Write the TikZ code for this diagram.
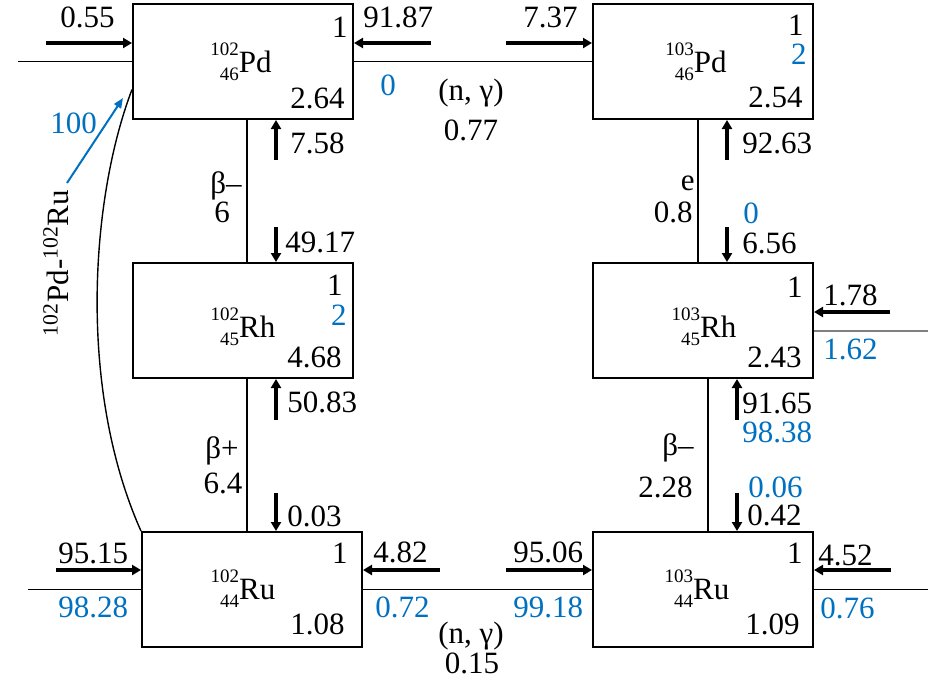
\documentclass[tikz,border=0pt]{standalone}
\usepackage{fontspec}
\setmainfont{Liberation Serif}
\usetikzlibrary{arrows.meta,calc}
\definecolor{vblue}{HTML}{0070C0}
\newcommand\nuc[3]{{\fontsize{9.5}{12.5}\selectfont\raisebox{-4pt}{\begin{tabular}[b]{@{}r@{}}#1\\#2\end{tabular}}}#3}
\begin{document}
\begin{tikzpicture}[x=0.5pt,y=-0.5pt,
  box/.style={draw,line width=1pt,minimum width=110pt,minimum height=57.5pt,inner sep=0pt,anchor=center},
  lbl/.style={inner sep=0pt,font=\fontsize{15.5}{18}\selectfont},
  blu/.style={lbl,text=vblue},
  flow/.style={line width=2pt,-{Triangle[length=4.5pt,width=5pt]}},
  link/.style={line width=0.75pt}]
\useasboundingbox (0,0) rectangle (945,686);

% boxes
\node[box] (pd102) at (243,61.5) {};
\node[box] (pd103) at (703,61.5) {};
\node[box] (rh102) at (243,320.5) {};
\node[box] (rh103) at (703,320.5) {};
\node[box] (ru102) at (252,589.5) {};
\node[box] (ru103) at (703,589.5) {};

% nuclide names
\node[lbl,anchor=base] (npd102) at (241,72) {\nuc{102}{46}{Pd}};
\node[lbl,anchor=base] (npd103) at (696,72) {\nuc{103}{46}{Pd}};
\node[lbl,anchor=base] (nrh102) at (243,337) {\nuc{102}{45}{Rh}};
\node[lbl,anchor=base] (nrh103) at (704,337) {\nuc{103}{45}{Rh}};
\node[lbl,anchor=base] (nru102) at (243,599) {\nuc{102}{44}{Ru}};
\node[lbl,anchor=base] (nru103) at (697,599) {\nuc{103}{44}{Ru}};

% in-box numbers
\node[lbl,anchor=base east] (a1) at (348,37) {1};
\node[lbl,anchor=base east] (a2) at (345,108) {2.64};
\node[lbl,anchor=base east] (b1) at (804,35) {1};
\node[blu,anchor=base east] (b2) at (807,64) {2};
\node[lbl,anchor=base east] (b3) at (803,107) {2.54};
\node[lbl,anchor=base east] (c1) at (343,295) {1};
\node[blu,anchor=base east] (c2) at (347,325) {2};
\node[lbl,anchor=base east] (c3) at (342,367) {4.68};
\node[lbl,anchor=base east] (d1) at (803,297) {1};
\node[lbl,anchor=base east] (d3) at (802,367) {2.43};
\node[lbl,anchor=base east] (e1) at (348,563) {1};
\node[lbl,anchor=base east] (e3) at (345,634) {1.08};
\node[lbl,anchor=base east] (f1) at (803,563) {1};
\node[lbl,anchor=base east] (f3) at (800,634) {1.09};

% free ends
\coordinate (pdl) at (18,61.5);
\coordinate (rhr) at (928,331);
\coordinate (rul) at (28,589.5);
\coordinate (rur) at (928,589.5);

% connectors
\draw[link] (pdl) -- (pd102.west);
\draw[link] (pd102.east) -- (pd103.west);
\draw[link] ([xshift=2pt]pd102.south) -- ([xshift=2pt]rh102.north);
\draw[link] ([xshift=2pt]rh102.south) -- ([xshift=-2.5pt]ru102.north);
\draw[link] ([xshift=-2.5pt]pd103.south) -- ([xshift=-2.5pt]rh103.north);
\draw[link] ([xshift=2.5pt]rh103.south) -- ([xshift=2.5pt]ru103.north);
\draw[line width=0.75pt,gray] ([yshift=-5.25pt]rh103.east) -- (rhr);
\draw[link] (rul) -- (ru102.west);
\draw[link] (ru102.east) -- (ru103.west);
\draw[link] (ru103.east) -- (rur);
\draw[line width=0.7pt] ([yshift=-14pt]pd102.west) .. controls (90,200) and (78,390) .. (ru102.north west);

% flow arrows
\coordinate (s055) at (46,43);
\coordinate (s9187) at (431,43);
\coordinate (s737) at (506,43);
\coordinate (s178) at (890,312);
\coordinate (s9515) at (56,570);
\coordinate (s482) at (440,570);
\coordinate (s9506) at (506,570);
\coordinate (s452) at (891,570);
\coordinate (s758) at (276,160);
\coordinate (s4917) at (276,227);
\coordinate (s5083) at (276,420);
\coordinate (s003) at (276,493);
\coordinate (s9263) at (727,160);
\coordinate (s656) at (727,227);
\coordinate (s9165) at (737,420);
\coordinate (s042) at (737,493);
\draw[flow] (s055) -- (s055 -| pd102.west);
\draw[flow] (s9187) -- (s9187 -| pd102.east);
\draw[flow] (s737) -- (s737 -| pd103.west);
\draw[flow] (s178) -- (s178 -| rh103.east);
\draw[flow] (s9515) -- (s9515 -| ru102.west);
\draw[flow] (s482) -- (s482 -| ru102.east);
\draw[flow] (s9506) -- (s9506 -| ru103.west);
\draw[flow] (s452) -- (s452 -| ru103.east);
\draw[flow] (s758) -- (s758 |- pd102.south);
\draw[flow] (s4917) -- (s4917 |- rh102.north);
\draw[flow] (s5083) -- (s5083 |- rh102.south);
\draw[flow] (s003) -- (s003 |- ru102.north);
\draw[flow] (s9263) -- (s9263 |- pd103.south);
\draw[flow] (s656) -- (s656 |- rh103.north);
\draw[flow] (s9165) -- (s9165 |- rh103.south);
\draw[flow] (s042) -- (s042 |- ru103.north);

% blue 100 arrow
\coordinate (h1) at (67,183);
\coordinate (h2) at (123,98);
\draw[vblue,line width=1pt,-{Triangle[length=5pt,width=4pt]}] (h1) -- (h2);
\node[blu,anchor=base west] (l100) at (50,133) {100};

% rotated label
\node[lbl,anchor=base,rotate=90] (lpdru) at (68,263) {\textsuperscript{102}Pd-\textsuperscript{102}Ru};

% outside labels
\node[lbl,anchor=base west] (l055) at (60,27) {0.55};
\node[lbl,anchor=base west] (l9187) at (363,27) {91.87};
\node[lbl,anchor=base west] (l737) at (523,27) {7.37};
\node[blu,anchor=base west] (l0a) at (380,95) {0};
\node[lbl,anchor=base] (lng1) at (471,100) {(n, γ)};
\node[lbl,anchor=base] (l077) at (471,140) {0.77};
\node[lbl,anchor=base west] (l758) at (290,153) {7.58};
\node[lbl,anchor=base] (lbm1) at (226,193) {β–};
\node[lbl,anchor=base] (l6) at (222,222) {6};
\node[lbl,anchor=base west] (l4917) at (285,252) {49.17};
\node[lbl,anchor=base west] (l9263) at (742,153) {92.63};
\node[lbl,anchor=base east] (le) at (695,190) {e};
\node[lbl,anchor=base east] (l08) at (693,222) {0.8};
\node[blu,anchor=base west] (l0b) at (743,223) {0};
\node[lbl,anchor=base west] (l656) at (742,253) {6.56};
\node[lbl,anchor=base west] (l5083) at (287,412) {50.83};
\node[lbl,anchor=base] (lbp) at (222,458) {β+};
\node[lbl,anchor=base] (l64) at (223,493) {6.4};
\node[lbl,anchor=base west] (l003) at (287,526) {0.03};
\node[lbl,anchor=base west] (l9515) at (58,563) {95.15};
\node[blu,anchor=base west] (l9828) at (58,617) {98.28};
\node[lbl,anchor=base west] (l482) at (373,562) {4.82};
\node[blu,anchor=base west] (l072) at (375,617) {0.72};
\node[lbl,anchor=base] (lng2) at (471,643) {(n, γ)};
\node[lbl,anchor=base] (l015) at (472,673) {0.15};
\node[lbl,anchor=base west] (l9506) at (513,562) {95.06};
\node[blu,anchor=base west] (l9918) at (513,617) {99.18};
\node[lbl,anchor=base west] (l452) at (818,565) {4.52};
\node[blu,anchor=base west] (l076) at (820,618) {0.76};
\node[lbl,anchor=base west] (l042) at (747,525) {0.42};
\node[blu,anchor=base west] (l006) at (748,497) {0.06};
\node[lbl,anchor=base east] (l228) at (693,497) {2.28};
\node[lbl,anchor=base east] (lbm2) at (694,455) {β–};
\node[lbl,anchor=base west] (l9165) at (742,413) {91.65};
\node[blu,anchor=base west] (l9838) at (742,442) {98.38};
\node[lbl,anchor=base west] (l178) at (823,305) {1.78};
\node[blu,anchor=base west] (l162) at (823,359) {1.62};
\end{tikzpicture}
\end{document}
